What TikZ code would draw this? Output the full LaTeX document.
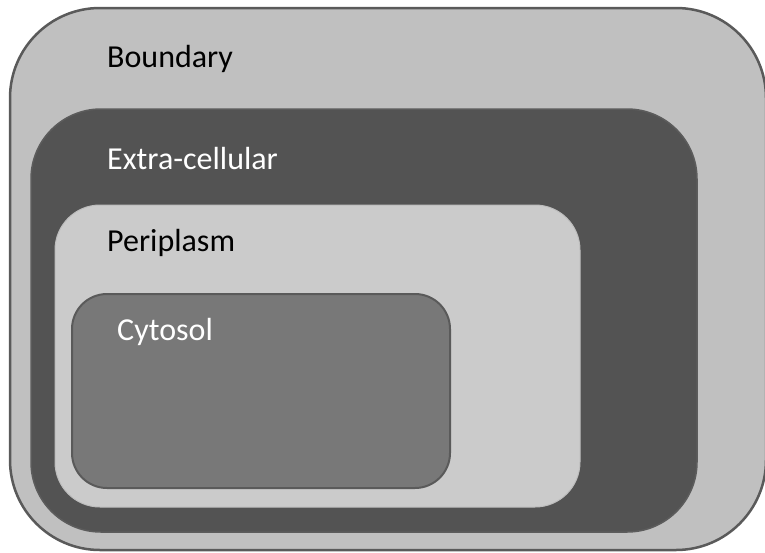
\documentclass[tikz,border=0pt]{standalone}
\usepackage{fontspec}
\setmainfont{Carlito}
\definecolor{outerfill}{HTML}{C0C0C0}
\definecolor{outerline}{HTML}{5A5A5A}
\definecolor{extrafill}{HTML}{535353}
\definecolor{extraline}{HTML}{5C5C5C}
\definecolor{perifill}{HTML}{CBCBCB}
\definecolor{periline}{HTML}{BDBDBD}
\definecolor{cytofill}{HTML}{787878}
\definecolor{cytoline}{HTML}{5A5A5A}
\tikzset{
  lbl/.style={anchor=base west, inner sep=0pt, font=\fontsize{32}{38}\selectfont},
}
\begin{document}
\begin{tikzpicture}[x=1pt,y=-1pt]
\useasboundingbox (0,0) rectangle (765,552);
\begin{scope}
\clip (0,0) rectangle (765,552);
\draw[fill=outerfill, draw=outerline, line width=2.5pt, rounded corners=90pt] (10,8) rectangle (766,550);
\end{scope}
\draw[fill=extrafill, draw=extraline, line width=1.5pt, rounded corners=70pt] (31,109) rectangle (697,532);
\draw[fill=perifill, draw=periline, line width=1pt, rounded corners=45pt] (55,205) rectangle (580,507);
\draw[fill=cytofill, draw=cytoline, line width=2pt, rounded corners=35pt] (72,294) rectangle (450,488);
\node[lbl, text=black] (boundary) at (107,67) {Boundary};
\node[lbl, text=white] (extra) at (107,169) {Extra-cellular};
\node[lbl, text=black] (peri) at (107,251) {Periplasm};
\node[lbl, text=white] (cyto) at (117,340) {Cytosol};
\end{tikzpicture}
\end{document}
